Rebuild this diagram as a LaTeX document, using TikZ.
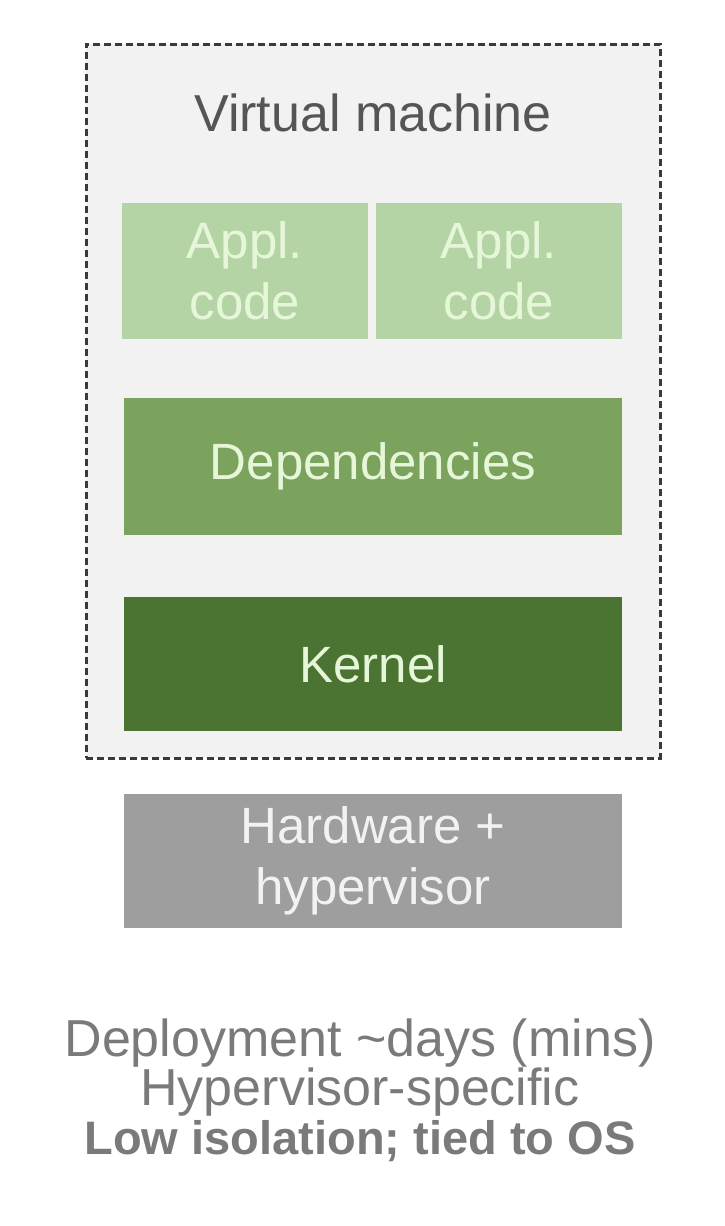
\documentclass[tikz,border=0pt]{standalone}
\usepackage{fontspec}
\setmainfont{Liberation Sans}
\definecolor{vmfill}{HTML}{F2F2F3}
\definecolor{vmline}{HTML}{3A3A3A}
\definecolor{vmtext}{HTML}{555555}
\definecolor{appgreen}{HTML}{B5D4A5}
\definecolor{depgreen}{HTML}{7BA35D}
\definecolor{kergreen}{HTML}{4B7432}
\definecolor{hwgray}{HTML}{9E9E9E}
\definecolor{paletext}{HTML}{E6F7D9}
\definecolor{notetext}{HTML}{7A7A7A}
\begin{document}
\begin{tikzpicture}[
x=1pt,y=-1pt,
layer/.style={rectangle,inner sep=0pt,align=center,text=paletext,
  font=\fontsize{51}{61}\selectfont},
vmbox/.style={rectangle,inner sep=0pt,fill=vmfill,draw=vmline,
  line width=3pt,dash pattern=on 7pt off 4pt},
note/.style={align=center,text=notetext,font=\fontsize{52}{49}\selectfont}
]
\useasboundingbox (0,0) rectangle (724,1226);
\node[vmbox,minimum width=574pt,minimum height=714pt] (vm) at (373,401) {};
\node[text=vmtext,font=\fontsize{52}{60}\selectfont] (title) at (373,113) {Virtual machine};
\node[layer,fill=appgreen,minimum width=246pt,minimum height=136pt] (app1) at (245,271) {Appl.\\code};
\node[layer,fill=appgreen,minimum width=246pt,minimum height=136pt] (app2) at (499,271) {Appl.\\code};
\node[layer,fill=depgreen,minimum width=498pt,minimum height=137pt] (deps) at (373,466) {Dependencies};
\node[layer,fill=kergreen,minimum width=498pt,minimum height=134pt] (kernel) at (373,664) {Kernel};
\node[layer,fill=hwgray,text=white!95!black,minimum width=498pt,minimum height=134pt] (hw) at (373,861) {Hardware +\\hypervisor};
\node[note] (notes) at (360,1090) {Deployment \textasciitilde days (mins)\\Hypervisor-specific\\{\fontsize{47}{49}\selectfont\bfseries Low isolation; tied to OS}};
\end{tikzpicture}
\end{document}
